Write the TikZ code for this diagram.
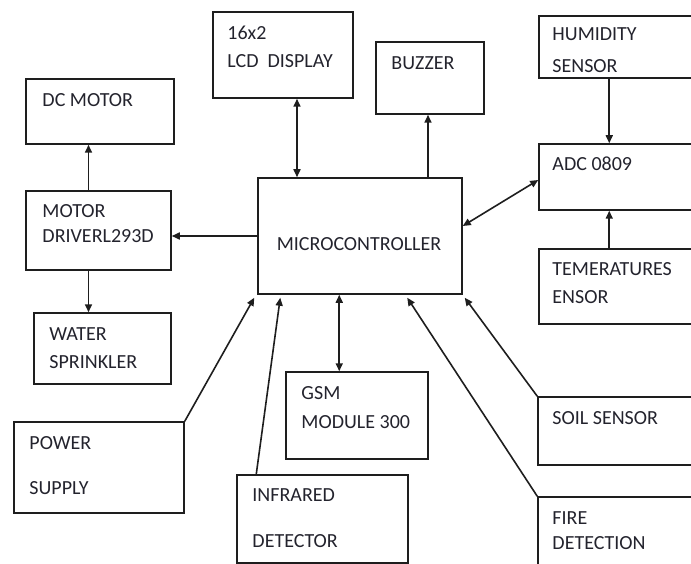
\documentclass[tikz,border=0pt]{standalone}
\usepackage{fontspec}
\setmainfont{Carlito}
\usetikzlibrary{positioning, arrows.meta, calc}
\definecolor{lineGray}{RGB}{30,30,30}
\definecolor{txtGray}{RGB}{35,35,45}

\begin{document}
\begin{tikzpicture}[x=1pt, y=-1pt,
    font=\fontsize{20}{28}\selectfont,
    blk/.style={rectangle, draw=lineGray, line width=1.5pt, inner sep=0pt},
    txt/.style={anchor=north west, inner sep=0pt, align=left, text=txtGray},
    arr/.style={-{Triangle[length=8pt, width=7pt]}, line width=1.6pt, lineGray},
    biarr/.style={{Triangle[length=8pt, width=7pt]}-{Triangle[length=8pt, width=7pt]}, line width=1.6pt, lineGray}
]
\useasboundingbox (0,0) rectangle (691,564);
\clip (0,0) rectangle (691,564);

% blocks
\node[blk, minimum width=140pt, minimum height=86pt]  (lcd)  at (283,55)    {};
\node[blk, minimum width=148pt, minimum height=65pt]  (dcm)  at (100,111.5) {};
\node[blk, minimum width=145pt, minimum height=79pt]  (drv)  at (98.5,230.5){};
\node[blk, minimum width=137pt, minimum height=71pt]  (spr)  at (102.5,348.5){};
\node[blk, minimum width=170pt, minimum height=91pt]  (pwr)  at (99,467.5)  {};
\node[blk, minimum width=171pt, minimum height=88pt]  (ir)   at (322.5,519) {};
\node[blk, minimum width=142pt, minimum height=87pt]  (gsm)  at (357,415.5) {};
\node[blk, minimum width=204pt, minimum height=116pt] (mcu)  at (360,236)   {};
\node[blk, minimum width=108pt, minimum height=72pt]  (buz)  at (430,78)    {};
\node[blk, minimum width=160pt, minimum height=62pt]  (hum)  at (619,47)    {};
\node[blk, minimum width=160pt, minimum height=66pt]  (adc)  at (619,177)   {};
\node[blk, minimum width=160pt, minimum height=75pt]  (tmp)  at (619,286.5) {};
\node[blk, minimum width=160pt, minimum height=68pt]  (soil) at (618,431)   {};
\node[blk, minimum width=160pt, minimum height=80pt]  (fire) at (618,537)   {};

% block texts
\node[txt] (lcdt)  at ([shift={(15pt,-15pt)}]lcd.north west)  {16x2\\LCD\ \ DISPLAY};
\node[txt] (dcmt)  at ([shift={(17pt,-15pt)}]dcm.north west)  {DC MOTOR};
\node[txt] (drvt)  at ([shift={(17pt,-14pt)}]drv.north west)  {MOTOR\\[-3pt]DRIVERL293D};
\node[txt] (sprt)  at ([shift={(16pt,-15pt)}]spr.north west)  {WATER\\SPRINKLER};
\node[txt] (pwrt)  at ([shift={(16pt,-15pt)}]pwr.north west)  {POWER\\[17pt]SUPPLY};
\node[txt] (irt)   at ([shift={(16pt,-14pt)}]ir.north west)   {INFRARED\\[18pt]DETECTOR};
\node[txt] (gsmt)  at ([shift={(16pt,-15pt)}]gsm.north west)  {GSM\\[1pt]MODULE 300};
\node[txt] (buzt)  at ([shift={(16pt,-15pt)}]buz.north west)  {BUZZER};
\node[txt] (humt)  at ([shift={(14pt,-12pt)}]hum.north west)  {HUMIDITY\\[4pt]SENSOR};
\node[txt] (adct)  at ([shift={(14pt,-13pt)}]adc.north west)  {ADC 0809};
\node[txt] (tmpt)  at ([shift={(14pt,-14pt)}]tmp.north west)  {TEMERATURES\\ENSOR};
\node[txt] (soilt) at ([shift={(15pt,-15pt)}]soil.north west) {SOIL SENSOR};
\node[txt] (firet) at ([shift={(15pt,-15pt)}]fire.north west) {FIRE\\[-3pt]DETECTION};
\node[inner sep=0pt, text=txtGray] (mcut) at ([shift={(-1pt,-8.5pt)}]mcu.center) {MICROCONTROLLER};

% connectors
\draw[biarr] ([xshift=14pt]lcd.south) -- ([xshift=14pt]lcd.south |- mcu.north);
\draw[arr] ([xshift=-2pt]buz.south |- mcu.north) -- ([xshift=-2pt]buz.south);
\draw[arr] ([xshift=-10pt]drv.north) -- ([xshift=-10pt]drv.north |- dcm.south);
\draw[arr] (mcu.west) -- (mcu.west -| drv.east);
\draw[arr] ([xshift=-10pt]drv.south) -- ([xshift=-10pt]drv.south |- spr.north);
\draw[arr] ([xshift=71pt]hum.south west) -- ([xshift=71pt]adc.north west);
\draw[arr] ([xshift=71pt]tmp.north west) -- ([xshift=71pt]adc.south west);
\draw[biarr] ([yshift=10pt]mcu.east) -- ([yshift=-3pt]adc.west);
\draw[biarr] ([xshift=54pt]gsm.north west) -- ([xshift=54pt]gsm.north west |- mcu.south);
\draw[arr] (pwr.north east) -- ([shift={(-3pt,-3pt)}]mcu.south west);
\draw[arr] ([xshift=20pt]ir.north west) -- ([shift={(23pt,-3pt)}]mcu.south west);
\draw[arr] (fire.north west) -- ([shift={(150pt,-3pt)}]mcu.south west);
\draw[arr] (soil.north west) -- ([shift={(2pt,-3pt)}]mcu.south east);
\end{tikzpicture}
\end{document}
